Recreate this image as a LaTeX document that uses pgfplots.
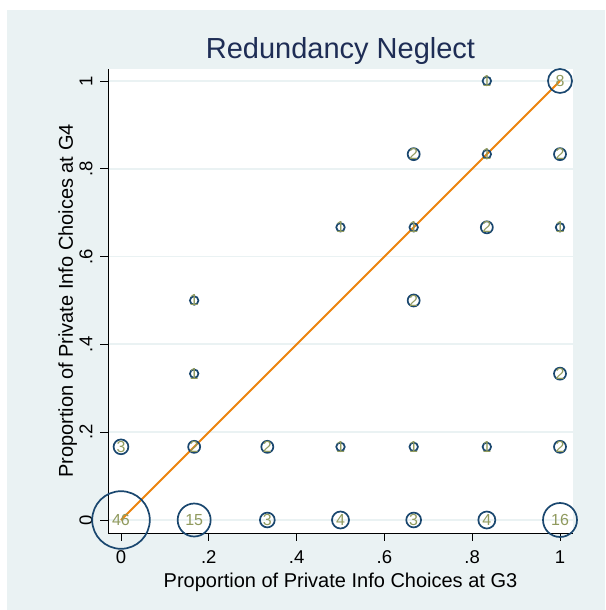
\documentclass[border=0pt]{standalone}
\usepackage{pgfplots}
\pgfplotsset{compat=1.18}
\usepackage{fontspec}
\setmainfont{Liberation Sans}
\definecolor{bgblue}{RGB}{234,242,243}
\definecolor{stnavy}{RGB}{26,71,111}
\definecolor{lblcol}{RGB}{144,154,94}
\definecolor{lineor}{RGB}{236,132,14}
\definecolor{titlecol}{RGB}{30,45,85}
\pgfplotsset{
  cnt/.style={only marks, mark=o, color=stnavy, mark size=#1,
    mark options={line width=1.7pt, draw=stnavy},
    every node near coord/.append style={anchor=center, text=lblcol,
      font=\fontsize{16}{16}\selectfont, inner sep=0pt}},
}
\begin{document}
\begin{tikzpicture}[x=1pt,y=1pt]
\useasboundingbox (0,0) rectangle (605,610);
\fill[white] (0,0) rectangle (605,610);
\fill[bgblue] (7,0) rectangle (605,600);
\begin{axis}[
  at={(108pt,77pt)}, anchor=south west,
  scale only axis, width=465pt, height=464pt,
  xmin=-0.0296, xmax=1.0296, ymin=-0.0296, ymax=1.0273,
  axis background/.style={fill=white},
  axis x line*=bottom, axis y line*=left,
  axis line style={black, line width=0.8pt, -},
  xtick={0,0.2,0.4,0.6,0.8,1}, xticklabels={0,.2,.4,.6,.8,1},
  ytick={0,0.2,0.4,0.6,0.8,1}, yticklabels={0,.2,.4,.6,.8,1},
  tick align=outside, major tick length=8pt,
  tick style={black, line width=0.8pt},
  xticklabel shift=6pt, yticklabel shift=4pt,
  ymajorgrids, grid style={bgblue, line width=1.8pt},
  ticklabel style={font=\fontsize{18.5}{20}\selectfont},
  yticklabel style={rotate=90, anchor=south},
  xlabel={Proportion of Private Info Choices at G3},
  ylabel={Proportion of Private Info Choices at G4},
  every axis x label/.style={at={(axis description cs:0.5,-0.1164)}, anchor=base,
    font=\fontsize{20}{22}\selectfont},
  every axis y label/.style={at={(axis description cs:-0.0753,0.5)}, rotate=90, anchor=base,
    font=\fontsize{20}{22}\selectfont},
  title={Redundancy Neglect},
  every axis title/.style={at={(axis description cs:0.5,1.0216)}, anchor=base,
    font=\fontsize{29}{30}\selectfont, text=titlecol},
  clip=false,
]
\addplot[cnt=4.25pt, nodes near coords={1}] coordinates {
 (0.5,0.16667) (0.66667,0.16667) (0.83333,0.16667) (0.16667,0.33333)
 (0.16667,0.5) (0.5,0.66667) (0.66667,0.66667) (1,0.66667)
 (0.83333,0.83333) (0.83333,1)};
\addplot[cnt=6.0pt, nodes near coords={2}] coordinates {
 (0.16667,0.16667) (0.33333,0.16667) (1,0.16667) (1,0.33333)
 (0.66667,0.5) (0.83333,0.66667) (0.66667,0.83333) (1,0.83333)};
\addplot[cnt=7.4pt, nodes near coords={3}] coordinates {
 (0.33333,0) (0.66667,0) (0,0.16667)};
\addplot[cnt=8.5pt, nodes near coords={4}] coordinates {
 (0.5,0) (0.83333,0)};
\addplot[cnt=12pt, nodes near coords={8}] coordinates {(1,1)};
\addplot[cnt=16.5pt, nodes near coords={15}] coordinates {(0.16667,0)};
\addplot[cnt=17pt, nodes near coords={16}] coordinates {(1,0)};
\addplot[cnt=28.8pt, nodes near coords={46}] coordinates {(0,0)};
\addplot[lineor, line width=1.9pt, mark=none] coordinates {(0,0) (1,1)};
\end{axis}
\end{tikzpicture}
\end{document}
